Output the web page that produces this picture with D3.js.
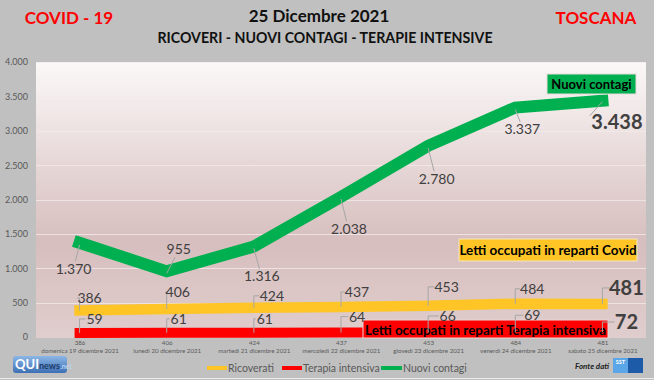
<!DOCTYPE html>
<html><head><meta charset="utf-8">
<script src="https://cdn.jsdelivr.net/npm/d3@7/dist/d3.min.js"></script>
<style>
html,body{margin:0;padding:0;background:#c0c0c0;}
svg{display:block;font-family:Lato,"Open Sans",sans-serif;}
</style></head>
<body>
<svg id="chart" width="654" height="380"></svg>
<script>
// ---- DATA ----
const categories = ["domenica 19 dicembre 2021","lunedì 20 dicembre 2021","martedì 21 dicembre 2021","mercoledì 22 dicembre 2021","giovedì 23 dicembre 2021","venerdì 24 dicembre 2021","sabato 25 dicembre 2021"];
const ricoverati = [386,406,424,437,453,484,481];
const terapiaIntensiva = [59,61,61,64,66,69,72];
const nuoviContagi = [1370,955,1316,2038,2780,3337,3438];
const yTicks = [0,500,1000,1500,2000,2500,3000,3500,4000];
const seriesNames = ["Ricoverati","Terapia intensiva","Nuovi contagi"];

// ---- LAYOUT / STYLE ----
const colors = {ric:"#ffc526", ti:"#ff0000", nc:"#00b050"};
const plot = {left:36, right:646, top:62, bottom:337};
const greenOff = [[-6,26],[12,-22],[8,30],[8,32],[8.5,33],[7,22],[14.5,21]];
const yellowOff = [[10,-12.5],[11,-17],[18,-12],[16,-15],[18.5,-19],[17,-15],[24,-16]];
const redOff = [[15,-14],[12,-14],[11,-14],[16,-16],[19.5,-16.5],[17,-17],[24,-10]];

const loc = d3.formatLocale({decimal:",", thousands:".", grouping:[3], currency:["€",""]});
const fmt = loc.format(",d");

const svg = d3.select("#chart");
const defs = svg.append("defs");
const grad = defs.append("linearGradient").attr("id","bg").attr("x1",0).attr("y1",0).attr("x2",0).attr("y2",1);
grad.append("stop").attr("offset","0%").attr("stop-color","#fbf8f8");
grad.append("stop").attr("offset","65%").attr("stop-color","#d7bebe");
grad.append("stop").attr("offset","100%").attr("stop-color","#e0cdcd");
const qg = defs.append("linearGradient").attr("id","qg").attr("x1",0).attr("y1",0).attr("x2",0).attr("y2",1);
qg.append("stop").attr("offset","0%").attr("stop-color","#8cb6e6");
qg.append("stop").attr("offset","100%").attr("stop-color","#3c6fb4");

const x = d3.scalePoint().domain(categories).range([plot.left, plot.right]).padding(0.5);
const y = d3.scaleLinear().domain([0,4000]).range([plot.bottom, plot.top]);

// titles
svg.append("text").attr("x",69).attr("y",24).attr("text-anchor","middle").attr("fill","#ff0000")
  .attr("font-weight","bold").attr("font-size",17).text("COVID - 19");
svg.append("text").attr("x",596).attr("y",24).attr("text-anchor","middle").attr("fill","#ff0000")
  .attr("font-weight","bold").attr("font-size",17).text("TOSCANA");
svg.append("text").attr("x",319).attr("y",22).attr("text-anchor","middle").attr("fill","#111")
  .attr("font-weight","bold").attr("font-size",17).text("25 Dicembre 2021");
svg.append("text").attr("x",325).attr("y",43).attr("text-anchor","middle").attr("fill","#111")
  .attr("font-weight","bold").attr("font-size",14.2).text("RICOVERI - NUOVI CONTAGI - TERAPIE INTENSIVE");

// plot bg
svg.append("rect").attr("x",plot.left).attr("y",plot.top).attr("width",plot.right-plot.left)
  .attr("height",plot.bottom-plot.top+1).attr("fill","url(#bg)");

// grid
svg.append("g").selectAll("line").data(yTicks.filter(d=>d>0)).join("line")
  .attr("x1",plot.left).attr("x2",plot.right).attr("y1",d=>Math.round(y(d))+0.5).attr("y2",d=>Math.round(y(d))+0.5)
  .attr("stroke","#f2eaea").attr("stroke-opacity",0.8).attr("stroke-width",1);

// y axis
const ya = svg.append("g").attr("transform",`translate(${plot.left},0)`)
  .call(d3.axisLeft(y).tickValues(yTicks).tickSize(0).tickPadding(8).tickFormat(fmt));
ya.select(".domain").remove();
ya.selectAll("text").attr("fill","#595959").attr("font-size",9).attr("font-family","Lato,sans-serif");

// x axis (two-line labels)
const xa = svg.append("g").attr("transform",`translate(0,${plot.bottom})`)
  .call(d3.axisBottom(x).tickSize(0).tickFormat(""));
xa.select(".domain").remove();
xa.selectAll(".tick").each(function(d,i){
  const t = d3.select(this).append("text").attr("fill","#595959").attr("font-size",6.2).attr("text-anchor","middle").attr("font-family","Lato,sans-serif");
  t.append("tspan").attr("x",0).attr("y",7.5).text(ricoverati[i]);
  t.append("tspan").attr("x",0).attr("y",15.5).text(d);
});

// lines
const line = d3.line().x((d,i)=>x(categories[i])).y(d=>y(d));
svg.append("path").datum(terapiaIntensiva).attr("d",line).attr("fill","none").attr("stroke",colors.ti)
  .attr("stroke-width",10).attr("stroke-linecap","square");
svg.append("path").datum(ricoverati).attr("d",line).attr("fill","none").attr("stroke",colors.ric)
  .attr("stroke-width",10.5).attr("stroke-linecap","square");
svg.append("path").datum(nuoviContagi).attr("d",line).attr("fill","none").attr("stroke",colors.nc)
  .attr("stroke-width",12).attr("stroke-linejoin","miter").attr("stroke-linecap","square");

// boxes
function box(x0,y0,w,h,fill,txt,fs,stroke,ty){
  svg.append("rect").attr("x",x0).attr("y",y0).attr("width",w).attr("height",h).attr("fill",fill)
    .attr("stroke",stroke||"#e9dada").attr("stroke-width",1);
  svg.append("text").attr("x",x0+w/2).attr("y",ty!=null?ty:y0+h/2).attr("dy","0.35em").attr("text-anchor","middle")
    .attr("font-weight","bold").attr("font-size",fs).attr("fill","#000").text(txt);
}
box(547,74,89,20,colors.nc,"Nuovi contagi",13);
box(459,239,178,22,colors.ric,"Letti occupati in reparti Covid",13.5,"#f3e6c0");
box(363,320,245,18,colors.ti,"Letti occupati in reparti Terapia intensiva",13.4,"#ead6d6",330.5);

// data labels
const lg = svg.append("g");
function labels(vals, offs, kind){
  vals.forEach((v,i)=>{
    const px = x(categories[i]), py = y(v);
    const last = i===vals.length-1;
    const lx = px+offs[i][0], ly = py+offs[i][1];
    const fs = last?20:14;
    const txt = fmt(v);
    const tw = txt.length*fs*0.5;
    let p;
    if(kind==="green"){
      const ey = offs[i][1]>0 ? ly-fs*0.55 : ly+fs*0.55;
      const ex = last ? lx-tw/2-2 : px+(lx-px)*0.7;
      p = last ? `M${px},${py+1}L${ex},${ly-6}` : `M${px},${py+2}L${ex},${ey}`;
    } else {
      const ex = lx-tw/2-2;
      p = `M${px},${py}L${px},${ly}L${ex},${ly}`;
    }
    lg.append("path").attr("d",p).attr("fill","none").attr("stroke","#a6a6a6").attr("stroke-width",1);
    lg.append("text").attr("x",lx).attr("y",ly).attr("dy","0.35em").attr("text-anchor","middle")
      .attr("font-size",fs).attr("font-weight",last?"bold":"normal").attr("fill","#404040").text(txt);
  });
}
labels(nuoviContagi, greenOff, "green");
labels(ricoverati, yellowOff, "elbow");
labels(terapiaIntensiva, redOff, "elbow");

// legend
const legendPos = [[207,227],[282,302],[381,402]];
const legCols = [colors.ric, colors.ti, colors.nc];
seriesNames.forEach((n,i)=>{
  svg.append("line").attr("x1",legendPos[i][0]).attr("x2",legendPos[i][1]).attr("y1",368).attr("y2",368)
    .attr("stroke",legCols[i]).attr("stroke-width",4);
  svg.append("text").attr("x",legendPos[i][1]+1).attr("y",368).attr("dy","0.35em").attr("font-size",10.5)
    .attr("fill","#595959").text(n);
});

// logos
svg.append("rect").attr("x",13).attr("y",356).attr("width",54).attr("height",17).attr("rx",3).attr("fill","url(#qg)");
const qt = svg.append("text").attr("x",15).attr("y",369).attr("font-weight","bold");
qt.append("tspan").attr("font-size",13).attr("fill","#fff").text("QUI");
qt.append("tspan").attr("font-size",9).attr("fill","#1e3c68").text("news");
qt.append("tspan").attr("font-size",7).attr("fill","#b9d4f2").text(".net");
svg.append("text").attr("x",575).attr("y",369).attr("font-size",8).attr("font-weight","bold").attr("font-style","italic")
  .attr("fill","#222").text("Fonte dati");
svg.append("rect").attr("x",613).attr("y",358).attr("width",15).attr("height",15).attr("fill","#5aa6e6");
svg.append("rect").attr("x",628).attr("y",358).attr("width",15).attr("height",15).attr("fill","#1d5aa8");
svg.append("text").attr("x",620.5).attr("y",364).attr("text-anchor","middle").attr("font-size",5.5).attr("font-weight","bold").attr("fill","#fff").text("SST");
svg.append("line").attr("x1",0).attr("x2",654).attr("y1",378.5).attr("y2",378.5).attr("stroke","#ececec").attr("stroke-width",1);
</script>
</body></html>
